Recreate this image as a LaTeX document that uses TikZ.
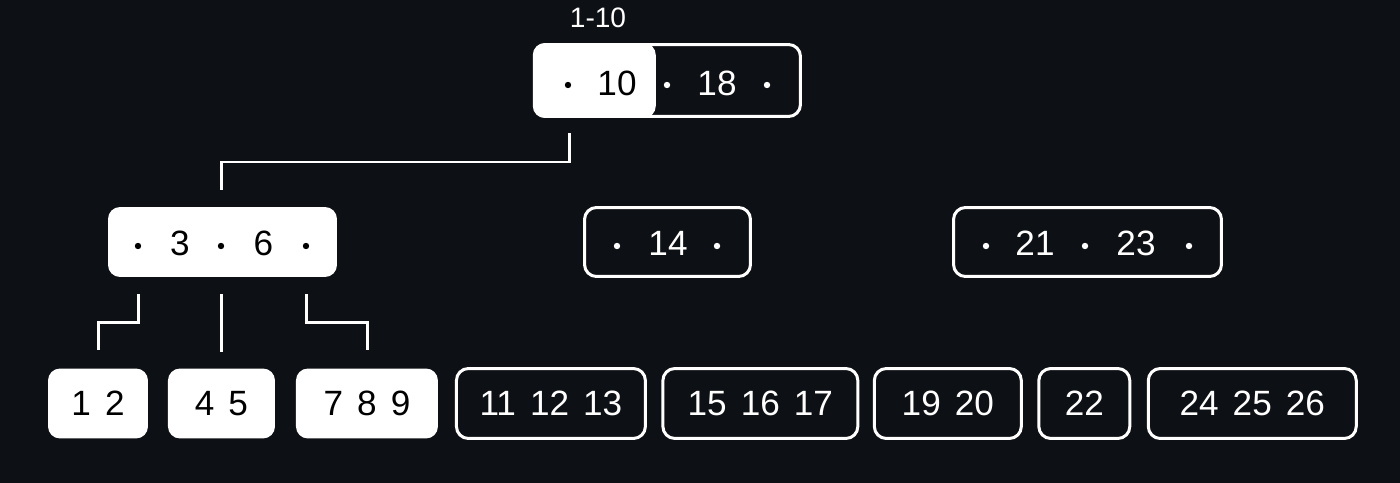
\documentclass[tikz,border=0pt]{standalone}
\usepackage{fontspec}
\setmainfont{Liberation Sans}
\usetikzlibrary{positioning}
\definecolor{bgdark}{RGB}{13,16,20}
\newcommand{\numfont}{\fontsize{20}{24}\selectfont\spaceskip=8pt plus 0pt\relax}

\begin{document}
\begin{tikzpicture}[x=0.02cm,y=-0.02cm,
    font=\numfont,
    box/.style={draw=white,line width=0.06cm,rounded corners=0.24cm,
      minimum height=1.4cm,inner sep=0pt,outer sep=0pt,text=white},
    boxw/.style={fill=white,rounded corners=0.24cm,
      minimum height=1.4cm,inner sep=0pt,outer sep=0pt,text=black},
    key/.style={inner sep=0pt,text=white},
    keyb/.style={inner sep=0pt,text=black},
    link/.style={draw=white,line width=0.06cm}]
  \useasboundingbox[fill=bgdark] (0,0) rectangle (1400,483);

  % root
  \node[box,minimum width=5.32cm,minimum height=1.44cm] (root) at (667.5,80.5) {};
  \node[boxw,minimum width=2.46cm,minimum height=1.5cm] (rootl) at (594.3,80.5) {};
  \node[key,font=\fontsize{16}{18}\selectfont] (range) at (598,18) {1-10};
  \node[keyb] (k10) at (617,83.5) {10};
  \node[key] (k18) at (717,83.5) {18};
  \fill[black] (568,85) circle (3.2);
  \fill[white] (667,85) circle (3.2) (767,85) circle (3.2);

  % second level
  \node[boxw,minimum width=4.58cm] (n36) at (222.5,242) {};
  \node[keyb] (k3) at (180,243.5) {3};
  \node[keyb] (k6) at (263.5,243.5) {6};
  \fill[black] (138,246) circle (3.2) (221,246) circle (3.2) (306,246) circle (3.2);

  \node[box,minimum width=3.32cm,minimum height=1.38cm] (n14) at (667.5,242) {};
  \node[key] (k14) at (668,243.5) {14};
  \fill[white] (617,246) circle (3.2) (717,246) circle (3.2);

  \node[box,minimum width=5.36cm,minimum height=1.38cm] (n2123) at (1087.5,242) {};
  \node[key] (k21) at (1035,243.5) {21};
  \node[key] (k23) at (1136,243.5) {23};
  \fill[white] (986,246) circle (3.2) (1085,246) circle (3.2) (1189,246) circle (3.2);

  % leaves
  \node[boxw,minimum width=2cm] (l12) at (98,403.5) {1 2};
  \node[boxw,minimum width=2.14cm,right=0.4cm of l12] (l45) {4 5};
  \node[boxw,minimum width=2.84cm,right=0.42cm of l45] (l789) {7 8 9};
  \node[box,minimum width=3.78cm,right=0.37cm of l789] (l111213) {11 12 13};
  \node[box,minimum width=3.9cm,right=0.35cm of l111213] (l151617) {15 16 17};
  \node[box,minimum width=2.94cm,right=0.33cm of l151617] (l1920) {19 20};
  \node[box,minimum width=1.82cm,right=0.35cm of l1920] (l22) {22};
  \node[box,minimum width=4.16cm,right=0.37cm of l22] (l242526) {24 25 26};

  % connectors
  \coordinate (r0) at (569,133);
  \coordinate (r0e) at (221,190);
  \draw[link] (r0) -- ++(0,29) -| (r0e);

  \coordinate (c1) at (138,294);
  \coordinate (c1e) at (98,350);
  \coordinate (c2) at (221,294);
  \coordinate (c2e) at (221,352);
  \coordinate (c3) at (306,294);
  \coordinate (c3e) at (367,350);
  \draw[link] (c1) -- ++(0,28) -| (c1e);
  \draw[link] (c2) -- (c2e);
  \draw[link] (c3) -- ++(0,28) -| (c3e);
\end{tikzpicture}
\end{document}
